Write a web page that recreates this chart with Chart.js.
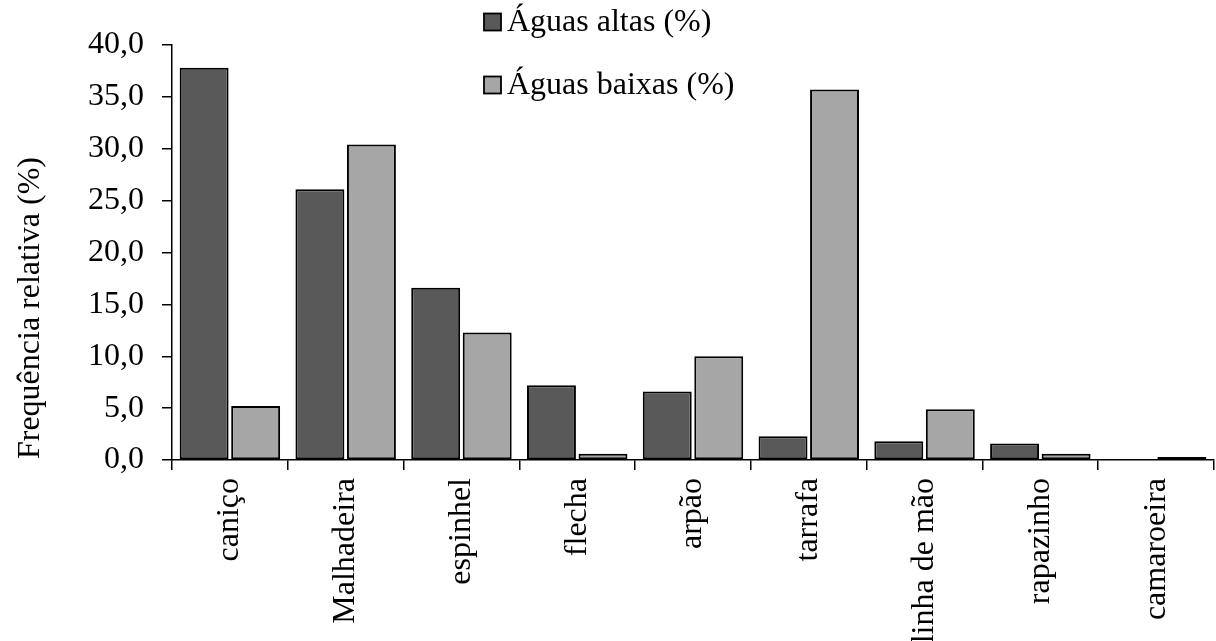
<!DOCTYPE html>
<html>
<head>
<meta charset="utf-8">
<script src="https://cdn.jsdelivr.net/npm/chart.js@4.4.0/dist/chart.umd.min.js"></script>
<style>
  html, body { margin: 0; padding: 0; background: #fff; }
  #wrap { width: 1216px; height: 641px; }
</style>
</head>
<body>
<div id="wrap"><canvas id="grafico"></canvas></div>
<script>
// dados
const categorias = ["caniço", "Malhadeira", "espinhel", "flecha", "arpão", "tarrafa", "linha de mão", "rapazinho", "camaroeira"];
const aguasAltas = [37.8, 26.1, 16.6, 7.2, 6.6, 2.3, 1.8, 1.6, 0];
const aguasBaixas = [5.2, 30.4, 12.3, 0.6, 10.0, 35.7, 4.9, 0.6, 0.3];
const nomesSeries = ["Águas altas (%)", "Águas baixas (%)"];
const tituloY = "Frequência relativa (%)";

const fonte = '"Liberation Serif", "Times New Roman", serif';

// legenda e título do eixo desenhados à mão (posições fixas como no original)
const extras = {
  id: "extras",
  afterDraw(chart) {
    const ctx = chart.ctx;
    ctx.save();
    ctx.font = "32px " + fonte;
    ctx.textBaseline = "middle";
    ctx.textAlign = "left";
    const linhas = [22, 85];
    chart.data.datasets.forEach((ds, i) => {
      const y = linhas[i];
      ctx.fillStyle = ds.backgroundColor;
      ctx.fillRect(484, y - 8.5, 17, 17);
      ctx.strokeStyle = "#000";
      ctx.lineWidth = 1.8;
      ctx.strokeRect(484, y - 8.5, 17, 17);
      ctx.fillStyle = "#000";
      ctx.fillText(ds.label, 507, y + 1);
    });
    // título do eixo y
    ctx.translate(31, 308);
    ctx.rotate(-Math.PI / 2);
    ctx.textAlign = "center";
    ctx.fillText(tituloY, 0, 0);
    ctx.restore();
  }
};

const ctx = document.getElementById("grafico").getContext("2d");
new Chart(ctx, {
  type: "bar",
  data: {
    labels: categorias,
    datasets: [
      {
        label: nomesSeries[0],
        data: aguasAltas,
        backgroundColor: "#595959",
        borderColor: "#000",
        borderWidth: 2,
        borderSkipped: false
      },
      {
        label: nomesSeries[1],
        data: aguasBaixas,
        backgroundColor: "#a6a6a6",
        borderColor: "#000",
        borderWidth: 2,
        borderSkipped: false
      }
    ]
  },
  options: {
    responsive: true,
    maintainAspectRatio: false,
    animation: false,
    categoryPercentage: 0.89,
    barPercentage: 0.95,
    layout: { padding: { top: 45, right: 2, left: 0, bottom: 0 } },
    plugins: {
      legend: { display: false },
      tooltip: { enabled: false }
    },
    scales: {
      x: {
        afterFit: s => { s.height = 181; },
        border: { color: "#000", width: 1.5 },
        grid: { drawOnChartArea: false, color: "#000", lineWidth: 1.5, tickLength: 10 },
        ticks: {
          autoSkip: false,
          minRotation: 90,
          maxRotation: 90,
          padding: 8,
          color: "#000",
          font: { family: fonte, size: 32 }
        }
      },
      y: {
        min: 0,
        max: 40,
        afterFit: s => { s.width = 172; },
        border: { color: "#000", width: 1.5 },
        grid: { drawOnChartArea: false, color: "#000", lineWidth: 1.5, tickLength: 10 },
        ticks: {
          stepSize: 5,
          padding: 18,
          color: "#000",
          font: { family: fonte, size: 32 },
          callback: v => v.toFixed(1).replace(".", ",")
        }
      }
    }
  },
  plugins: [extras]
});
</script>
</body>
</html>
